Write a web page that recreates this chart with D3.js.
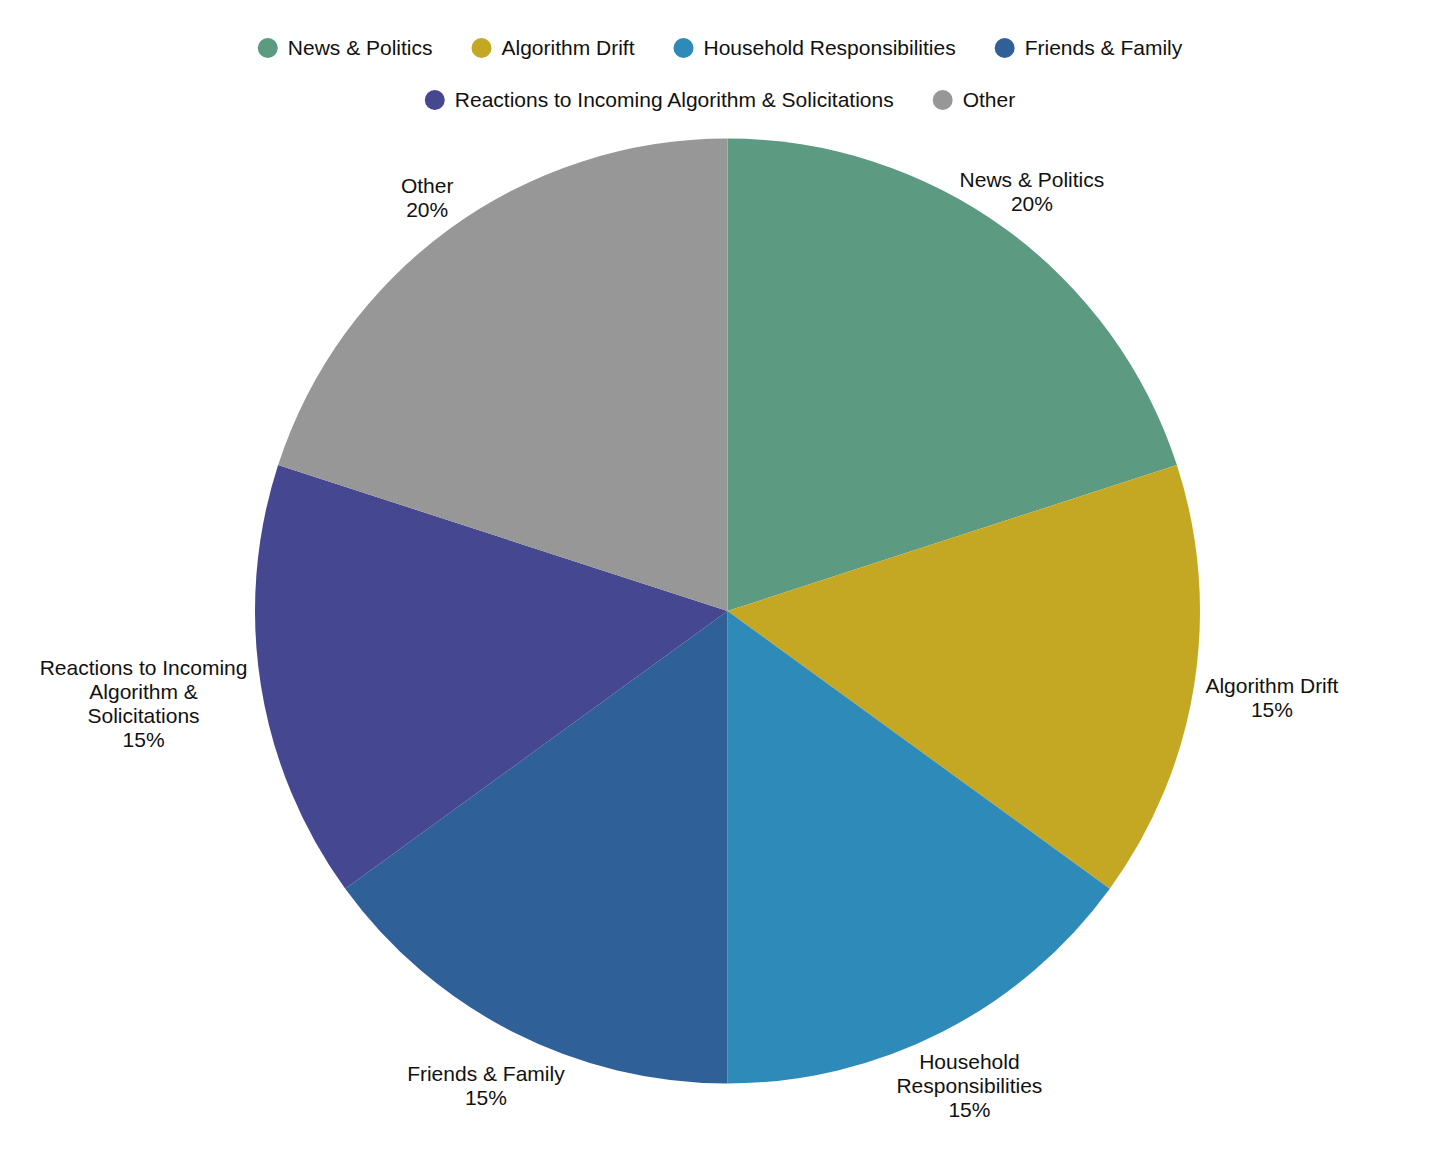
<!DOCTYPE html>
<html><head><meta charset="utf-8">
<script src="https://cdn.jsdelivr.net/npm/d3@7"></script>
<style>body{margin:0;background:#fff}svg{display:block}</style>
</head><body>
<svg id="chart" width="1456" height="1149"></svg>
<script>
const categories = ["News & Politics","Algorithm Drift","Household Responsibilities","Friends & Family","Reactions to Incoming Algorithm & Solicitations","Other"];
const values = [20,15,15,15,15,20];
const colors = ["#5C9A82","#C4A824","#2E8AB8","#2F6098","#454790","#989797"];
const labelLines = [["News & Politics"],["Algorithm Drift"],["Household","Responsibilities"],["Friends & Family"],["Reactions to Incoming","Algorithm &","Solicitations"],["Other"]];

const W=1456,H=1149, cx=727.5, cy=611, R=472.5;
const FONT="'Liberation Sans', Arial, sans-serif";
const svg=d3.select("#chart");
const data=categories.map((c,i)=>({name:c,value:values[i],color:colors[i],lines:labelLines[i]}));
const color=d3.scaleOrdinal().domain(categories).range(colors);

const pie=d3.pie().value(d=>d.value).sort(null);
const arc=d3.arc().innerRadius(0).outerRadius(R);
const arcs=pie(data);
const g=svg.append("g").attr("transform",`translate(${cx},${cy})`);
g.selectAll("path").data(arcs).join("path").attr("d",arc).attr("fill",d=>color(d.data.name));

// labels
const LH=24, FS=21, GAP=10;
arcs.forEach(a=>{
  const lines=[...a.data.lines, d3.format(".0f")(a.data.value)+"%"];
  const lg=g.append("g");
  const texts=lines.map((t,i)=>lg.append("text").attr("text-anchor","middle").attr("font-family",FONT).attr("font-size",FS).attr("fill","#111")
      .attr("y",(i-(lines.length-1)/2)*LH+FS*0.35).text(t));
  const boxes=texts.map((t,i)=>{const w=t.node().getComputedTextLength();const yc=(i-(lines.length-1)/2)*LH;return {x0:-w/2,x1:w/2,y0:yc-FS*0.38,y1:yc+FS*0.38};});
  const mid=(a.startAngle+a.endAngle)/2, sx=Math.sin(mid), sy=-Math.cos(mid);
  const minDist=d=>{const px=sx*d,py=sy*d;let m=Infinity;boxes.forEach(b=>{const qx=Math.max(b.x0+px,Math.min(0,b.x1+px));const qy=Math.max(b.y0+py,Math.min(0,b.y1+py));m=Math.min(m,Math.hypot(qx,qy));});return m;};
  let lo=R*0.5,hi=R*2;
  for(let k=0;k<40;k++){const m=(lo+hi)/2; if(minDist(m)<R+GAP) lo=m; else hi=m;}
  lg.attr("transform",`translate(${sx*hi},${sy*hi})`);
});

// legend
const LFS=21, rowY=[48,100], maxRow=960, legCx=720;
const tmp=svg.append("g");
const items=data.map(d=>{const t=tmp.append("text").attr("font-family",FONT).attr("font-size",LFS).text(d.name);const w=t.node().getComputedTextLength();t.remove();return {d,w:20+10+w};});
tmp.remove();
const rows=[];let cur=[],cw=0;const IG=39;
items.forEach(it=>{const add=(cur.length?IG:0)+it.w; if(cur.length&&cw+add>maxRow){rows.push({items:cur,w:cw});cur=[];cw=0;} cw+=(cur.length?IG:0)+it.w; cur.push(it);});
rows.push({items:cur,w:cw});
rows.forEach((row,ri)=>{
  let x=legCx-row.w/2;
  row.items.forEach(it=>{
    const lg=svg.append("g").attr("transform",`translate(${x},${rowY[ri]})`);
    lg.append("circle").attr("cx",10).attr("cy",0).attr("r",10).attr("fill",color(it.d.name));
    lg.append("text").attr("x",30).attr("y",LFS*0.35).attr("font-family",FONT).attr("font-size",LFS).attr("fill","#111").text(it.d.name);
    x+=it.w+IG;
  });
});
</script>
</body></html>
